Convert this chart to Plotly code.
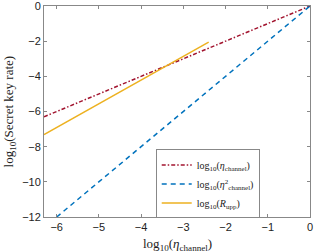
import plotly.graph_objects as go

x_red = [-6.3, 0.0]
y_red = [-6.3, 0.0]
x_blue = [-6.0, 0.0]
y_blue = [-12.0, 0.0]
x_orange = [-6.3, -4.8, -3.5, -2.4]
y_orange = [-7.32, -5.3, -3.57, -2.06]

serif = "Liberation Serif, DejaVu Serif, serif"
fig = go.Figure()
fig.add_trace(go.Scatter(x=x_red, y=y_red, mode="lines",
                         line=dict(color="#A2142F", width=1.5, dash="4px,2px,1.5px,2px"),
                         name="log<sub>10</sub>(<i>η</i><sub>channel</sub>)"))
fig.add_trace(go.Scatter(x=x_blue, y=y_blue, mode="lines",
                         line=dict(color="#0072BD", width=1.5, dash="5px,4px"),
                         name="log<sub>10</sub>(<i>η</i><sup>2</sup><sub>channel</sub>)"))
fig.add_trace(go.Scatter(x=x_orange, y=y_orange, mode="lines",
                         line=dict(color="#EDB120", width=1.5),
                         name="log<sub>10</sub>(<i>R</i><sub>upp</sub>)"))

axis_common = dict(showgrid=False, zeroline=False, showline=True, linecolor="#888888",
                   linewidth=1, mirror="ticks", ticks="inside", ticklen=3, tickcolor="#888888",
                   automargin=False, ticklabeloverflow="allow",
                   tickfont=dict(family="Liberation Sans, Arial, sans-serif", size=11, color="#222"))
fig.update_xaxes(range=[-6.3, 0], tickvals=[-6, -5, -4, -3, -2, -1, 0], **axis_common)
fig.update_yaxes(range=[-12, 0], tickvals=[-12, -10, -8, -6, -4, -2, 0], **axis_common)
fig.add_annotation(text="log<sub>10</sub>(<i>η</i><sub>channel</sub>)", xref="paper", yref="paper",
                   x=0.5, y=-0.128, xanchor="center", yanchor="middle", showarrow=False,
                   font=dict(family=serif, size=13, color="#222"))
fig.add_annotation(text="log<sub>10</sub>(Secret key rate)", xref="paper", yref="paper",
                   x=-0.128, y=0.5, xanchor="center", yanchor="middle", textangle=-90, showarrow=False,
                   font=dict(family=serif, size=13, color="#222"))
fig.update_layout(width=317, height=252, margin=dict(l=44, r=7, t=6, b=35),
                  plot_bgcolor="white", paper_bgcolor="white", showlegend=True,
                  legend=dict(x=0.42, y=0.32, xanchor="left", yanchor="top",
                              bgcolor="white", bordercolor="#888888", borderwidth=1,
                              font=dict(family=serif, size=10, color="#222"),
                              itemwidth=30, tracegroupgap=0))
fig.write_html("out.html", config={"displayModeBar": False},
               post_script="document.body.style.margin='0';")
